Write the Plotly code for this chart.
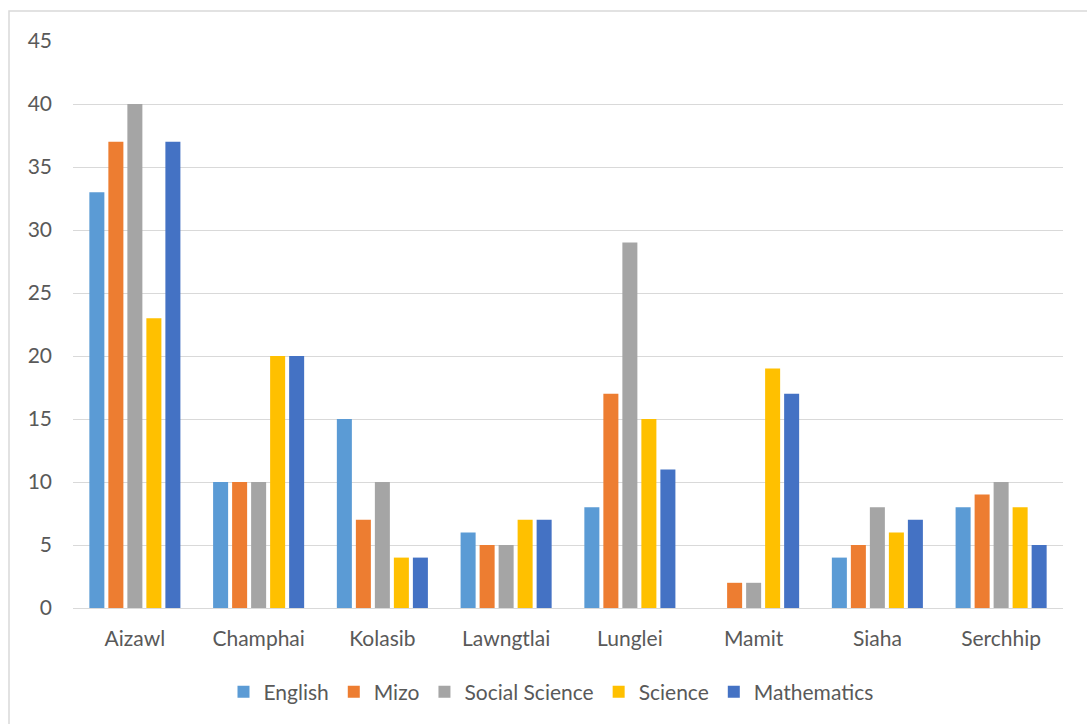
import plotly.graph_objects as go

districts = ["Aizawl", "Champhai", "Kolasib", "Lawngtlai", "Lunglei", "Mamit", "Siaha", "Serchhip"]
english = [33, 10, 15, 6, 8, 0, 4, 8]
mizo = [37, 10, 7, 5, 17, 2, 5, 9]
social_science = [40, 10, 10, 5, 29, 2, 8, 10]
science = [23, 20, 4, 7, 15, 19, 6, 8]
mathematics = [37, 20, 4, 7, 11, 17, 7, 5]

series = [
    ("English", english, "#5B9BD5"),
    ("Mizo", mizo, "#ED7D31"),
    ("Social Science", social_science, "#A5A5A5"),
    ("Science", science, "#FFC000"),
    ("Mathematics", mathematics, "#4472C4"),
]

FONT = "Lato, Calibri, sans-serif"
TEXT = "#595959"
GRID = "#D9D9D9"

fig = go.Figure()
for name, vals, color in series:
    fig.add_trace(go.Bar(
        x=districts, y=vals, name=name,
        marker=dict(color=color, line=dict(width=0)),
    ))

W, H = 1087, 724
L, R, T, B = 73, 24, 41, 116
pw, ph = W - L - R, H - T - B

fig.update_layout(
    width=W, height=H,
    margin=dict(l=L, r=R, t=T, b=B, pad=0),
    paper_bgcolor="white", plot_bgcolor="white",
    barmode="group", bargap=0.232, bargroupgap=0.21,
    font=dict(family=FONT, size=21, color=TEXT),
    showlegend=True,
    legend=dict(
        orientation="h", x=(551 - L) / pw, xanchor="center",
        y=(H - B - 692) / ph, yanchor="middle",
        font=dict(family=FONT, size=21, color=TEXT),
        itemwidth=30, tracegroupgap=0,
    ),
    xaxis=dict(
        showgrid=False, showline=True, linecolor=GRID, linewidth=1,
        ticks="", tickfont=dict(family=FONT, size=21, color=TEXT),
        ticklabelstandoff=12,
    ),
    yaxis=dict(
        range=[0, 45], dtick=5, tick0=0,
        showgrid=True, gridcolor=GRID, gridwidth=1,
        zeroline=True, zerolinecolor=GRID, zerolinewidth=1,
        showline=False, ticks="",
        tickfont=dict(family=FONT, size=21, color=TEXT),
        ticklabelstandoff=20,
    ),
    shapes=[dict(
        type="rect", xref="paper", yref="paper",
        x0=(9 - L) / pw, x1=1.2, y0=-0.4, y1=(H - B - 11) / ph,
        line=dict(color=GRID, width=1.5), fillcolor="rgba(0,0,0,0)", layer="below",
    )],
)

fig.write_html("out.html")
